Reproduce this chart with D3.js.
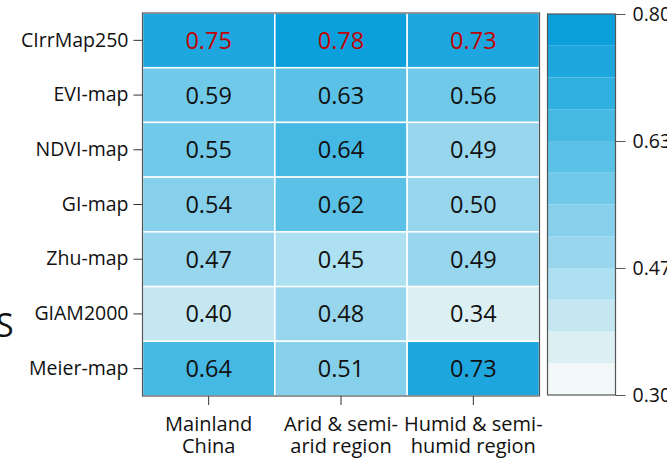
<!DOCTYPE html>
<html>
<head>
<meta charset="utf-8">
<script src="https://cdn.jsdelivr.net/npm/d3@7"></script>
<style>
  body { margin: 0; background: #fff; }
  svg text { font-family: "Open Sans", Lato, sans-serif; }
</style>
</head>
<body>
<svg id="chart" width="667" height="459"></svg>
<script>
const maps = ["CIrrMap250", "EVI-map", "NDVI-map", "GI-map", "Zhu-map", "GIAM2000", "Meier-map"];
const regions = ["Mainland China", "Arid & semi-arid region", "Humid & semi-humid region"];
const regionLines = [["Mainland", "China"], ["Arid & semi-", "arid region"], ["Humid & semi-", "humid region"]];
const mainland = [0.75, 0.59, 0.551, 0.54, 0.47, 0.40, 0.64];
const arid = [0.78, 0.63, 0.64, 0.62, 0.45, 0.48, 0.51];
const humid = [0.73, 0.56, 0.49, 0.50, 0.49, 0.343, 0.73];
const bandColors = ["#f1f8f7", "#dcf0f4", "#c4e7f2", "#ade0f0", "#98d6ed", "#86d0eb",
                    "#70c9e9", "#5bc1e7", "#45b8e4", "#30afe1", "#1ea7de", "#0ba0dc"];
const colorTicks = [0.30, 0.4667, 0.6333, 0.80];

const svg = d3.select("#chart");
const font = "'Open Sans', Lato, sans-serif";

const cells = [];
[mainland, arid, humid].forEach((vals, ci) => {
  vals.forEach((v, ri) => cells.push({ map: maps[ri], region: regions[ci], value: v, top: ri === 0 }));
});

const x = d3.scaleBand().domain(regions).range([142.5, 539.5]);
const y = d3.scaleBand().domain(maps).range([13, 396]);
const color = d3.scaleQuantize().domain([0.30, 0.80]).range(bandColors);

const g = svg.append("g");

g.selectAll("rect.cell")
  .data(cells)
  .enter().append("rect")
    .attr("class", "cell")
    .attr("x", d => x(d.region))
    .attr("y", d => y(d.map))
    .attr("width", x.bandwidth())
    .attr("height", y.bandwidth())
    .attr("fill", d => color(d.value))
    .attr("stroke", "#fff")
    .attr("stroke-width", 1.5);

g.selectAll("text.val")
  .data(cells)
  .enter().append("text")
    .attr("class", "val")
    .attr("x", d => x(d.region) + x.bandwidth() / 2)
    .attr("y", d => y(d.map) + y.bandwidth() / 2)
    .attr("dy", "0.36em")
    .attr("text-anchor", "middle")
    .attr("font-size", 23.5)
    .attr("fill", d => d.top ? "#c00000" : "#111")
    .text(d => d3.format(".2f")(d.value));

// frame
g.append("rect")
  .attr("x", 142.5).attr("y", 13)
  .attr("width", 397).attr("height", 383)
  .attr("fill", "none").attr("stroke", "#555").attr("stroke-width", 1.2);

// y axis
const yAxis = g.append("g")
  .attr("transform", "translate(142.5,0)")
  .call(d3.axisLeft(y).tickSize(9).tickPadding(5));
yAxis.select(".domain").remove();
yAxis.selectAll("line").attr("stroke", "#333");
yAxis.selectAll("text").attr("font-size", 19.5).attr("fill", "#111")
  .style("font-family", font);

// x axis
const xAxis = g.append("g")
  .attr("transform", "translate(0,396)")
  .call(d3.axisBottom(x).tickSize(9).tickFormat(""));
xAxis.select(".domain").remove();
xAxis.selectAll("line").attr("stroke", "#333");

g.selectAll("text.col")
  .data(regions)
  .enter().append("text")
    .attr("class", "col")
    .attr("x", d => x(d) + x.bandwidth() / 2)
    .attr("y", 431)
    .attr("text-anchor", "middle")
    .attr("font-size", 20)
    .attr("fill", "#111")
    .selectAll("tspan")
    .data((d, i) => regionLines[i])
    .enter().append("tspan")
      .attr("x", function() { return d3.select(this.parentNode).attr("x"); })
      .attr("dy", (d, i) => i === 0 ? 0 : 22)
      .text(d => d);

// colorbar
const cy = d3.scaleLinear().domain([0.30, 0.80]).range([395, 14]);
const step = 0.5 / bandColors.length;
g.selectAll("rect.band")
  .data(bandColors)
  .enter().append("rect")
    .attr("class", "band")
    .attr("x", 547.5)
    .attr("y", (d, i) => cy(0.30 + step * (i + 1)))
    .attr("width", 68)
    .attr("height", (d, i) => cy(0.30 + step * i) - cy(0.30 + step * (i + 1)))
    .attr("fill", d => d);
g.append("rect")
  .attr("x", 547.5).attr("y", 14)
  .attr("width", 68).attr("height", 381)
  .attr("fill", "none").attr("stroke", "#555").attr("stroke-width", 1.2);

const cAxis = g.append("g")
  .attr("transform", "translate(615.5,0)")
  .call(d3.axisRight(cy).tickValues(colorTicks).tickFormat(d3.format(".2f")).tickSize(10).tickPadding(7));
cAxis.select(".domain").remove();
cAxis.selectAll("line").attr("stroke", "#555");
cAxis.selectAll("text").attr("font-size", 19.5).attr("fill", "#111")
  .style("font-family", font);

// stray cut-off letter at the left edge
svg.append("text")
  .attr("x", -4).attr("y", 337)
  .attr("font-size", 32)
  .attr("fill", "#111")
  .text("S");
</script>
</body>
</html>
